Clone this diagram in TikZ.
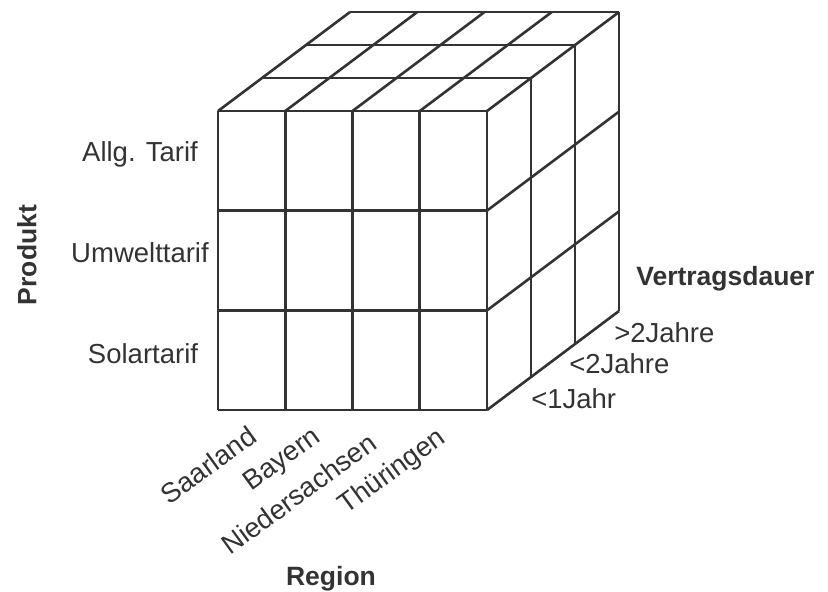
\documentclass[tikz,border=0pt]{standalone}
\usepackage{fontspec}
\setmainfont{Liberation Sans}
\definecolor{linie}{RGB}{51,51,51}
\begin{document}
\begin{tikzpicture}[x=1pt,y=-1pt, line width=2.6pt, draw=linie, text=linie,
    lab/.style={font=\fontsize{27.5}{32}\selectfont, inner sep=0pt},
    titel/.style={font=\fontsize{26.5}{30}\selectfont\bfseries, inner sep=0pt}]
    \useasboundingbox (0,0) rectangle (828,592);

    % 正面网格 (Region x Produkt)
    \foreach \i in {0,...,4}
        \draw (218+67.25*\i,111) -- (218+67.25*\i,410);
    \foreach \j in {0,...,3}
        \draw (218,111+99.67*\j) -- (487,111+99.67*\j);

    % 顶面：深度方向的斜线和横线
    \foreach \i in {0,...,4}
        \draw (218+67.25*\i,111) -- ++(132,-99);
    \foreach \k in {1,2,3}
        \draw (218+44*\k,111-33*\k) -- ++(269,0);

    % 右侧面：斜线和竖线
    \foreach \j in {1,2,3}
        \draw (487,111+99.67*\j) -- ++(132,-99);
    \foreach \k in {1,2,3}
        \draw (487+44*\k,111-33*\k) -- ++(0,299);

    % 产品标签
    \node[lab, anchor=base] (allg) at (140,161) {Allg. Tarif};
    \node[lab, anchor=base] (umwelt) at (140,262) {Umwelttarif};
    \node[lab, anchor=base] (solar) at (143,363) {Solartarif};
    \node[titel, rotate=90] (produkt) at (27,255) {Produkt};

    % 地区标签（斜放）
    \node[lab, rotate=36, anchor=east] (saar) at (254,432) {Saarland};
    \node[lab, rotate=36, anchor=east] (bayern) at (319,434) {Bayern};
    \node[lab, rotate=36, anchor=east] (nieder) at (374,439) {Niedersachsen};
    \node[lab, rotate=36, anchor=east] (thuer) at (444,435) {Thüringen};
    \node[titel, anchor=base] (region) at (331,585) {Region};

    % 合同期限标签
    \node[lab, anchor=base west] (j1) at (530,408) {<1Jahr};
    \node[lab, anchor=base west] (j2) at (568,373) {<2Jahre};
    \node[lab, anchor=base west] (j3) at (613,342) {>2Jahre};
    \node[titel, anchor=base west] (dauer) at (635,285) {Vertragsdauer};
\end{tikzpicture}
\end{document}
